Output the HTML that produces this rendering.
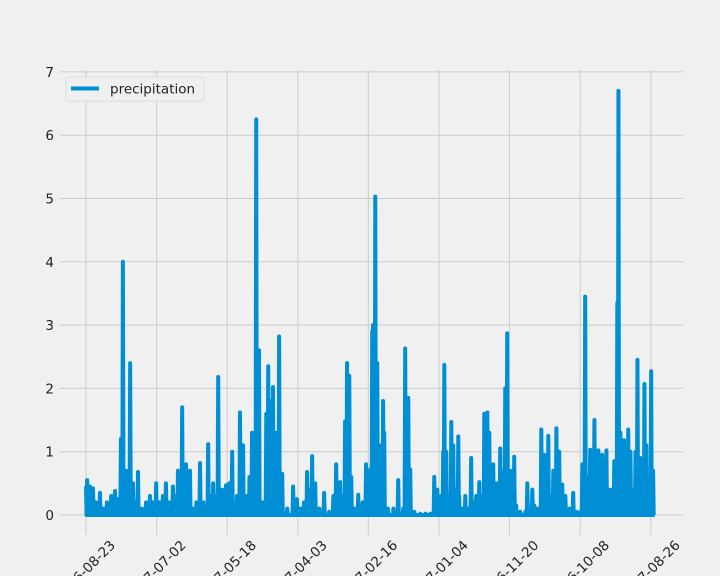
<!DOCTYPE html>
<html><head><meta charset="utf-8"><style>
body{margin:0;background:#f0f0f0;}
svg{display:block;font-family:"DejaVu Sans","Liberation Sans",sans-serif;}
</style></head><body>
<svg id="chart" width="720" height="576" xmlns="http://www.w3.org/2000/svg">
<rect width="720" height="576" fill="#f0f0f0"/>
<g id="grid"></g>
<g id="ylabels"></g>
<g id="xlabels"></g>
<path id="series" fill="none" stroke="#008fd5" stroke-width="4" stroke-linejoin="round"/>
<g>
<rect x="66" y="77" width="138" height="24" rx="3" fill="#f0f0f0" stroke="#dcdcdc"/>
<line x1="71" y1="88.5" x2="99" y2="88.5" stroke="#008fd5" stroke-width="4"/>
<text x="110" y="93.5" font-size="13.5" fill="#222">precipitation</text>
</g>
</svg>
<script>
const tickLabels=["2016-08-23","2017-07-02","2017-05-18","2017-04-03","2017-02-16","2017-01-04","2016-11-20","2016-10-08","2017-08-26"];
const tickIdx=[0,253,505,758,1010,1263,1515,1768,2021];
const yTicks=[0,1,2,3,4,5,6,7];
const idx=[0,4,7,14,20,25,35,50,62,75,90,97,104,115,125,132,143,150,158,168,177,186,200,215,229,240,251,262,275,286,298,311,320,329,337,344,358,365,372,385,395,408,420,437,446,455,465,473,487,495,501,512,523,540,551,562,576,585,594,609,619,630,637,645,652,659,669,680,691,702,720,741,755,768,780,791,800,809,820,835,852,870,885,895,909,920,927,934,942,949,960,974,990,1002,1017,1024,1027,1035,1042,1049,1056,1063,1067,1080,1100,1117,1135,1142,1153,1160,1175,1196,1215,1232,1246,1257,1271,1278,1282,1289,1300,1307,1314,1325,1332,1335,1345,1357,1367,1378,1387,1396,1407,1416,1425,1436,1443,1450,1457,1468,1475,1482,1493,1500,1507,1518,1525,1532,1539,1554,1572,1579,1590,1597,1604,1615,1629,1640,1648,1654,1665,1672,1683,1693,1704,1715,1730,1743,1755,1769,1776,1786,1795,1804,1812,1819,1826,1833,1840,1847,1854,1862,1869,1880,1890,1901,1905,1912,1919,1925,1930,1940,1948,1958,1966,1973,1983,1990,1998,2005,2015,2022,2029,2037];
const prcp=[0.45,0.55,0.3,0.45,0.15,0.42,0.2,0.35,0.1,0.2,0.3,0.3,0.38,0.25,1.2,4.0,0.7,0.3,2.4,0.5,0.2,0.68,0.1,0.2,0.3,0.2,0.5,0.2,0.3,0.5,0.2,0.45,0.3,0.7,0.4,1.7,0.8,0.5,0.7,0.1,0.2,0.82,0.2,1.12,0.3,0.5,0.3,2.18,0.4,0.3,0.47,0.5,1.0,0.3,1.62,1.1,0.3,0.6,1.3,6.25,2.6,0.2,0.2,1.6,2.35,1.8,2.02,1.3,2.82,0.65,0.1,0.45,0.25,0.1,0.2,0.68,0.4,0.93,0.5,0.1,0.35,0.05,0.3,0.8,0.52,0.3,1.48,2.4,2.2,0.6,0.1,0.32,0.2,0.8,0.72,2.9,3.0,5.03,2.4,1.1,0.3,1.8,1.3,0.1,0.1,0.55,0.1,2.63,1.85,0.72,0.05,0.02,0.02,0.02,0.6,0.4,0.3,1.0,2.37,1.0,0.3,1.47,1.1,0.4,1.24,0.3,0.1,0.3,0.1,0.9,0.2,0.3,0.52,0.3,1.6,1.62,1.3,0.5,0.8,0.5,0.3,1.05,0.7,2.0,2.87,0.7,0.2,0.92,0.15,0.05,0.05,0.5,0.1,0.4,0.15,0.1,1.35,0.95,0.4,1.25,0.3,0.7,1.37,1.0,0.48,0.3,0.1,0.35,0.05,0.05,0.8,3.45,0.6,1.03,0.5,1.5,0.6,1.02,0.4,0.95,0.4,1.02,0.4,0.4,0.85,3.35,6.7,1.3,0.5,1.18,0.3,1.35,1.0,0.4,1.0,2.45,0.9,0.3,2.07,1.1,0.2,2.27,0.7];
const NS='http://www.w3.org/2000/svg';
const X0=62,X1=683,Y0=70,Y1=535;
function xs(i){return 86+i*0.2795;}
function ys(v){return 515-v*63.3;}
const grid=document.getElementById('grid'),yl=document.getElementById('ylabels'),xl=document.getElementById('xlabels');
yTicks.forEach(t=>{
 const l=document.createElementNS(NS,'line');
 
 
 l.setAttribute('x1',X0-2);l.setAttribute('x2',X1);l.setAttribute('y1',ys(t));l.setAttribute('y2',ys(t));
 l.setAttribute('stroke','#cbcbcb');l.setAttribute('stroke-width','1');grid.appendChild(l);
 const tx=document.createElementNS(NS,'text');
 
 
 tx.setAttribute('x',54);tx.setAttribute('y',ys(t)+5);tx.setAttribute('text-anchor','end');tx.setAttribute('font-size','13.5');tx.setAttribute('fill','#222');
 tx.textContent=t;yl.appendChild(tx);
});
tickIdx.forEach((t,k)=>{
 const x=xs(t);
 const l=document.createElementNS(NS,'line');
 
 
 l.setAttribute('x1',x);l.setAttribute('x2',x);l.setAttribute('y1',Y0);l.setAttribute('y2',Y1);
 l.setAttribute('stroke','#cbcbcb');l.setAttribute('stroke-width','1');grid.appendChild(l);
 const tx=document.createElementNS(NS,'text');
 
 
 const ax=x+30,ay=546;
 tx.setAttribute('x',ax);tx.setAttribute('y',ay);tx.setAttribute('text-anchor','end');tx.setAttribute('font-size','13.5');tx.setAttribute('fill','#222');
 tx.setAttribute('transform','rotate(-45 '+ax+' '+ay+')');
 tx.textContent=tickLabels[k];xl.appendChild(tx);
});
let d='M'+xs(idx[0])+','+ys(prcp[0]);
for(let i=1;i<idx.length;i++){
 d+=' L'+(xs(idx[i-1])+0.6)+','+ys(0)+' L'+(xs(idx[i])-0.6)+','+ys(0)+' L'+xs(idx[i])+','+ys(prcp[i]);
}
d+=' L'+(xs(idx[idx.length-1])+0.5)+','+ys(0);
document.getElementById('series').setAttribute('d',d);
</script>
</body></html>
